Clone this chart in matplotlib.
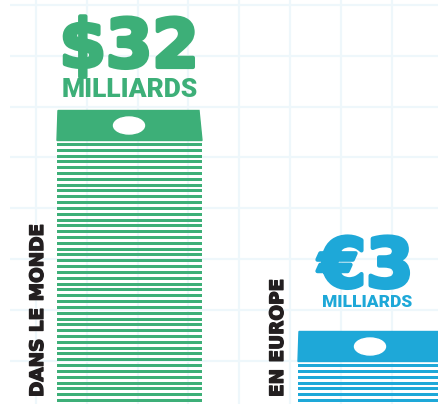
import matplotlib
matplotlib.use("Agg")
import matplotlib.pyplot as plt
import matplotlib.patheffects as pe
import numpy as np
from matplotlib.patches import Polygon, Ellipse

# data
categories = ["DANS LE MONDE", "EN EUROPE"]
values = [32, 3]
value_labels = ["$32", "€3"]
unit_label = "MILLIARDS"
bills = [45, 7]  # stacked bills drawn for each category
colors = ["#3daf78", "#1ea8d8"]

# layout in pixels (axes are set up in pixel units)
W, H = 438, 404
stack_left = [57, 298]
stack_w = 145
base = 402
pitch = 5.82
thick = 3.0
bill_h = 30

fig = plt.figure(figsize=(W / 100, H / 100), dpi=100)
ax = fig.add_axes([0, 0, 1, 1])
ax.set_xlim(0, W)
ax.set_ylim(H, 0)
ax.axis("off")

# light background grid
grid_x = np.arange(36, W, 50.8)
grid_y = np.arange(5, H, 50.8)
ax.hlines(grid_y, 10, W, color="#eef7fb", lw=1.6, zorder=0)
ax.vlines(grid_x, 0, H, color="#eef7fb", lw=1.6, zorder=0)

for i, cat in enumerate(categories):
    x0 = stack_left[i]
    c = colors[i]
    n = bills[i]
    # stripes (bill edges)
    tops = base - thick - np.round(np.arange(n) * pitch)
    ax.barh(tops + thick / 2, stack_w, left=x0, height=thick, color=c,
            linewidth=0, antialiased=False, zorder=2)
    # top bill
    bb = tops.min() - 2.5
    bt = bb - bill_h
    ax.add_patch(Polygon([[x0, bb], [x0 + stack_w, bb], [x0 + stack_w - 3, bt], [x0 + 1, bt]],
                         closed=True, color=c, zorder=2))
    ax.add_patch(Ellipse((x0 + 72, bb - 15), 31, 17, color="white", zorder=3))

big = "DejaVu Sans"
small = ["Roboto", "DejaVu Sans"]


def heavy(col, w=2.2):
    return [pe.withStroke(linewidth=w, foreground=col)]


# value labels
ax.text(129, 67, value_labels[0], color=colors[0], fontsize=48, fontweight="bold",
        family=big, ha="center", va="baseline", path_effects=heavy(colors[0], 3))
ax.text(130, 97, unit_label, color=colors[0], fontsize=19, fontweight="black",
        family=small, ha="center", va="baseline")
ax.text(366, 287, value_labels[1], color=colors[1], fontsize=49, fontweight="bold",
        family=big, ha="center", va="baseline", path_effects=heavy(colors[1], 3))
ax.text(367, 307, unit_label, color=colors[1], fontsize=12.5, fontweight="black",
        family=small, ha="center", va="baseline")

# category labels
ax.text(38, 397, categories[0], color="#231f20", fontsize=13.3, fontweight="bold",
        family=big, rotation=90, ha="center", va="bottom", path_effects=heavy("#231f20", 1))
ax.text(278, 397, categories[1], color="#231f20", fontsize=13.3, fontweight="bold",
        family=big, rotation=90, ha="center", va="bottom", path_effects=heavy("#231f20", 1))

fig.savefig("out.png", dpi=100)
